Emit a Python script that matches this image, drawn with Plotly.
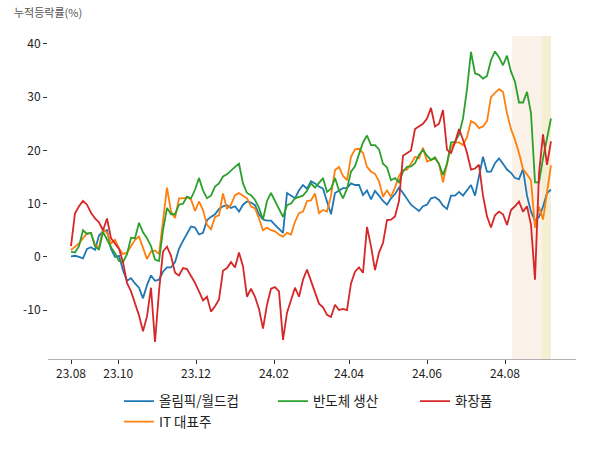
import plotly.graph_objects as go

# trading-day sample index (every ~2 trading days)
n_points = 121
day_index = list(range(n_points))

tick_pos = [0, 11.8, 31.25, 50.75, 69.5, 89, 108.5]
tick_labels = ["23.08", "23.10", "23.12", "24.02", "24.04", "24.06", "24.08"]
y_ticks = [-10, 0, 10, 20, 30, 40]
y_tick_labels = ["-10", "0", "10", "20", "30", "40"]

olympic = [0.1, 0.2, 0.0, -0.3, 1.5, 1.8, 1.3, 4.0, 4.8, 5.0, 1.5, 0.0, 0.2, -2.5, -4.5, -4.0,
           -5.0, -5.8, -7.8, -5.3, -3.5, -4.5, -4.3, -2.8, -2.0, -2.0, -1.0, 1.5, 3.0, 4.5, 5.7,
           5.5, 4.2, 4.5, 6.9, 7.5, 8.0, 9.0, 9.5, 9.7, 9.2, 9.5, 8.5, 9.8, 10.4, 10.2, 9.7, 8.0,
           7.0, 6.8, 6.8, 6.0, 5.2, 4.5, 12.0, 11.5, 11.0, 12.5, 13.5, 12.8, 14.2, 13.8, 13.2,
           12.8, 10.5, 8.0, 12.0, 12.5, 12.9, 12.9, 13.8, 13.5, 13.5, 11.6, 12.5, 10.8, 12.4,
           11.5, 10.5, 9.8, 11.0, 11.8, 13.0, 12.0, 11.0, 9.8, 9.2, 8.6, 9.5, 9.8, 11.0, 11.2,
           10.7, 9.6, 9.0, 11.5, 11.5, 12.2, 11.5, 12.5, 13.5, 11.5, 15.0, 18.8, 16.0, 16.0, 17.6,
           18.5, 17.5, 16.4, 15.8, 14.8, 14.6, 16.5, 11.5, 8.5, 6.8, 7.5, 9.4, 12.0, 12.6]

it_top = [1.3, 1.9, 2.5, 3.5, 4.4, 4.5, 2.2, 1.8, 5.2, 4.5, 2.5, 3.2, 1.6, 0.5, 0.8, 2.0, 3.2,
          3.8, 1.5, -0.4, 1.0, 1.2, 0.5, 7.0, 13.0, 8.5, 7.3, 11.0, 11.0, 11.2, 10.8, 8.6, 10.4,
          8.8, 6.0, 5.2, 7.5, 7.8, 11.9, 9.0, 9.8, 11.6, 12.0, 11.5, 11.0, 9.5, 9.1, 7.2, 5.0,
          5.5, 5.0, 4.8, 4.2, 3.8, 4.5, 4.2, 6.6, 8.2, 8.5, 10.5, 10.6, 11.9, 8.2, 8.8, 8.5,
          11.5, 16.3, 16.9, 15.2, 14.4, 18.8, 20.2, 20.3, 19.5, 16.9, 16.0, 15.6, 14.2, 11.3,
          12.5, 11.3, 13.0, 15.2, 16.3, 16.4, 17.5, 18.8, 18.5, 20.5, 17.9, 18.2, 18.5, 17.5,
          14.0, 17.5, 20.7, 21.5, 21.5, 21.0, 22.5, 25.5, 25.1, 24.2, 24.5, 25.5, 30.0, 30.8,
          31.5, 31.0, 27.0, 24.0, 22.0, 19.5, 16.5, 15.5, 14.4, 5.5, 9.4, 7.0, 12.5, 17.2]

semicon = [1.0, 0.8, 2.0, 5.0, 4.3, 4.5, 2.0, 1.3, 4.7, 3.2, 1.8, 0.7, -0.8, -1.0, 0.5, 3.6,
           3.5, 6.4, 4.6, 3.5, 2.0, -0.5, -0.8, 5.0, 9.2, 8.0, 8.0, 9.8, 10.0, 11.3, 11.0, 12.6,
           14.8, 12.5, 11.0, 11.5, 13.2, 13.8, 15.1, 15.5, 16.3, 16.9, 17.5, 13.8, 12.0, 11.6,
           10.7, 9.2, 7.0, 10.5, 12.0, 10.4, 8.8, 7.5, 9.7, 10.0, 11.0, 11.2, 11.5, 12.4, 13.8,
           13.0, 13.8, 14.8, 12.2, 12.8, 14.8, 12.5, 11.0, 12.8, 16.0, 17.0, 19.3, 21.5, 22.8,
           21.0, 21.0, 20.2, 17.5, 16.8, 14.4, 14.8, 14.0, 16.0, 16.9, 17.0, 17.6, 19.2, 20.1,
           19.0, 18.2, 18.7, 17.4, 15.4, 17.5, 21.5, 21.6, 23.0, 26.0, 31.5, 38.5, 34.5, 34.2,
           33.5, 34.0, 37.0, 38.6, 37.5, 36.0, 37.8, 34.8, 32.9, 29.0, 29.0, 31.0, 27.0, 14.0,
           14.0, 18.5, 22.5, 26.0]

cosmetics = [2.0, 8.2, 9.5, 10.5, 9.8, 8.3, 7.2, 6.5, 5.0, 7.2, 3.5, 2.5, 1.5, -1.0, -4.9,
             -6.5, -8.7, -11.0, -14.0, -11.2, -5.8, -16.0, -6.5, 1.0, 1.9, 0.2, -3.0, -3.5,
             -2.1, -2.3, -3.6, -4.9, -6.5, -8.2, -7.5, -10.3, -9.3, -8.0, -2.6, -2.1, -1.0,
             -2.0, 0.8, -1.8, -7.5, -6.0, -7.5, -9.8, -13.5, -9.0, -6.0, -5.7, -6.5, -15.6,
             -10.5, -8.0, -5.8, -7.5, -4.3, -2.4, -4.5, -7.0, -8.8, -9.5, -10.9, -11.3, -9.0,
             -10.0, -9.8, -10.0, -5.0, -2.8, -2.0, -3.0, 5.6, 2.0, -2.5, 0.8, 2.6, 6.9, 7.0,
             7.6, 10.5, 19.0, 19.5, 20.0, 24.0, 24.5, 25.0, 26.0, 28.0, 24.5, 25.0, 27.6, 20.1,
             19.5, 21.5, 24.0, 22.0, 19.5, 16.4, 16.6, 17.3, 11.5, 7.6, 5.5, 7.8, 8.5, 8.0, 6.0,
             8.8, 9.5, 10.4, 8.5, 9.5, 6.0, -4.3, 15.7, 23.0, 17.3, 21.7]

# (name, values, color, legend id)
series = [
    ("올림픽/월드컵", olympic, "#1f77b4", "legend"),
    ("IT 대표주", it_top, "#ff7f0e", "legend"),
    ("반도체 생산", semicon, "#2ca02c", "legend2"),
    ("화장품", cosmetics, "#d62728", "legend3"),
]

shade_ranges = [(110.25, 117.75, "rgba(248,236,224,0.75)"),
                (117.75, 120.0, "rgba(240,234,196,0.75)")]

fig = go.Figure()
for name, vals, color, leg in series:
    fig.add_trace(go.Scatter(x=day_index, y=vals, mode="lines", name=name,
                             line=dict(color=color, width=1.8), legend=leg))

for x0, x1, col in shade_ranges:
    fig.add_shape(type="rect", xref="x", yref="paper", x0=x0, x1=x1, y0=0, y1=1,
                  fillcolor=col, line=dict(width=0), layer="below")

font_family = "Noto Sans CJK KR, Noto Sans, sans-serif"
leg_common = dict(orientation="v", xanchor="left", y=-0.083, yanchor="top",
                  font=dict(size=13.5, color="#222"), tracegroupgap=0,
                  bgcolor="rgba(0,0,0,0)")
fig.update_layout(
    width=600, height=450,
    margin=dict(l=48, r=24, t=36, b=91, autoexpand=False),
    paper_bgcolor="white", plot_bgcolor="white",
    font=dict(family=font_family, size=12, color="#222"),
    showlegend=True,
    legend=dict(x=0.1345, **leg_common),
    legend2=dict(x=0.426, **leg_common),
    legend3=dict(x=0.695, **leg_common),
    annotations=[dict(text="누적등락률(%)", xref="paper", yref="paper", x=-0.068, y=1.074,
                      xanchor="left", yanchor="middle", showarrow=False,
                      font=dict(size=11, color="#555"))],
)
fig.update_xaxes(range=[-5.75, 126.25], tickvals=tick_pos, ticktext=tick_labels,
                 showgrid=False, zeroline=False, showline=True, linecolor="#b0b0b0",
                 linewidth=1, ticks="outside", ticklen=4, tickcolor="#333",
                 tickfont=dict(size=12, color="#222"))
fig.update_yaxes(range=[-19.2, 41.5], tickvals=y_ticks, ticktext=y_tick_labels,
                 showgrid=False, zeroline=False, showline=False, ticks="outside",
                 ticklen=4, tickcolor="#333", tickfont=dict(size=12, color="#222"))

fig.write_html("out.html", config={"displayModeBar": False},
               post_script="document.body.style.margin='0px';document.body.style.padding='0px';")
